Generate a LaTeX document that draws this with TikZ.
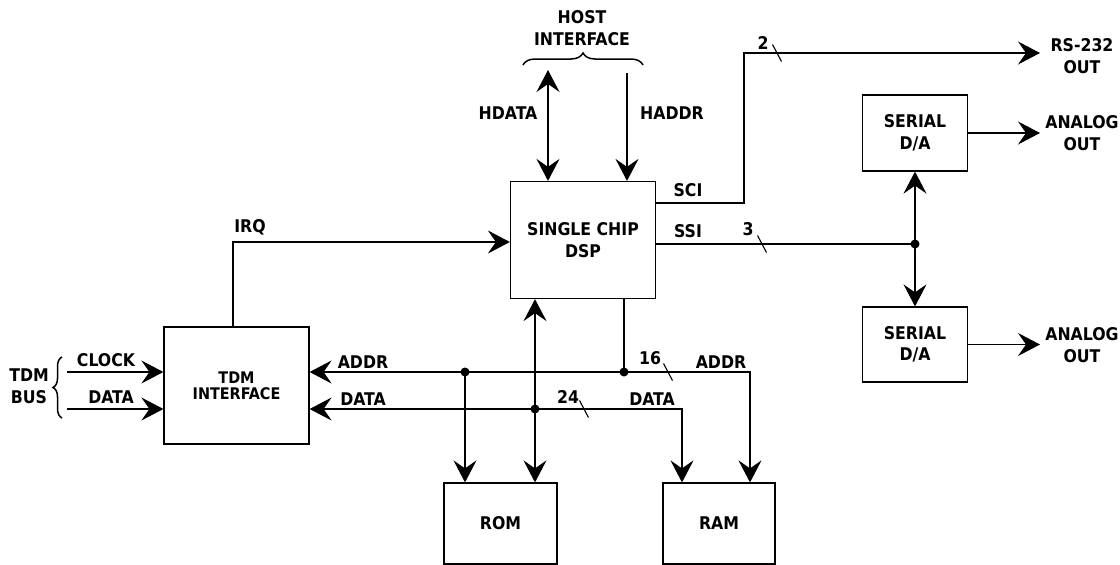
\documentclass[tikz,border=0pt]{standalone}
\usepackage{fontspec}
\setmainfont{DejaVu Sans Condensed}
\usetikzlibrary{arrows.meta,calc,decorations.pathreplacing}

\tikzset{
  lbl/.style={font=\bfseries\fontsize{17.5}{21.5}\selectfont, align=center, inner sep=0pt},
  small/.style={font=\bfseries\fontsize{16}{16}\selectfont, align=center, inner sep=0pt},
  blk/.style={draw, line width=1.2pt, inner sep=0pt, align=center},
  ln/.style={line width=1.1pt},
  sig/.style={line width=1.1pt, -{Stealth[length=22pt,width=23pt,inset=8pt]}},
  dbl/.style={line width=1.1pt, {Stealth[length=22pt,width=23pt,inset=8pt]}-{Stealth[length=22pt,width=23pt,inset=8pt]}},
  jdot/.style={circle, fill, inner sep=0pt, minimum size=9pt},
  brc/.style={decorate, line width=1.5pt, decoration={brace, amplitude=#1}}
}
\newcommand{\busmark}[1]{\draw[ln] ($#1+(-4.5,-8.5)$) -- ($#1+(4.5,8.5)$);}

\begin{document}
\begin{tikzpicture}[x=1pt,y=-1pt]
    \useasboundingbox (0,0) rectangle (1120,565);
    % blocks
    \node[blk, lbl, minimum width=145pt, minimum height=117pt] (dsp) at (583,240) {SINGLE CHIP\\DSP};
    \node[blk, small, minimum width=145pt, minimum height=117pt] (tdm) at (236.5,385.5) {TDM\\INTERFACE};
    \node[blk, lbl, minimum width=113pt, minimum height=81pt] (rom) at (500.5,523.5) {ROM};
    \node[blk, lbl, minimum width=112pt, minimum height=81pt] (ram) at (719,523.5) {RAM};
    \node[blk, lbl, minimum width=105pt, minimum height=76pt] (dacA) at (915,133) {SERIAL\\D/A};
    \node[blk, lbl, minimum width=105pt, minimum height=75pt] (dacB) at (915,344.5) {SERIAL\\D/A};

    % free ends and bends
    \coordinate (hostL) at (548,70);
    \coordinate (hostR) at (627,73);
    \coordinate (sciY) at (0,203);
    \coordinate (sciK) at (744,53);
    \coordinate (rsEnd) at (1040,53);
    \coordinate (ssiJ) at (915,244);
    \coordinate (anaEnd) at (1040,0);
    \coordinate (irqX) at (233,0);
    \coordinate (irqY) at (0,242);
    \coordinate (clkS) at (67,372);
    \coordinate (datS) at (67,409);
    \coordinate (addrJ1) at (465,372);
    \coordinate (addrJ2) at (624,372);
    \coordinate (dataJ) at (535,409);
    \coordinate (ramA) at (750,0);
    \coordinate (ramD) at (682,0);

    % host interface
    \draw[dbl] (hostL) -- (hostL |- dsp.north);
    \draw[sig] (hostR) -- (hostR |- dsp.north);
    \draw[brc=12pt] (523,65) -- (643,65);
    \node[lbl] (host) at (582,28) {HOST\\INTERFACE};
    \node[lbl] (hdata) at (508,113) {HDATA};
    \node[lbl] (haddr) at (672,113) {HADDR};

    % serial ports
    \draw[sig] (dsp.east |- sciY) -| (sciK) -- (rsEnd);
    \draw[ln] (dsp.east |- ssiJ) -- (ssiJ);
    \draw[sig] (ssiJ) -- (dacA.south);
    \draw[sig] (ssiJ) -- (dacB.north);
    \node[jdot] at (ssiJ) {};
    \busmark{(777,53)}
    \busmark{(762,244)}
    \node[lbl] (sci) at (688,190) {SCI};
    \node[lbl] (ssi) at (688,231) {SSI};
    \node[lbl] (n2) at (763,43) {2};
    \node[lbl] (n3) at (748,229) {3};
    \node[lbl] (rs) at (1082,56) {RS-232\\OUT};
    \draw[sig] (dacA.east) -- (dacA.east -| anaEnd);
    \draw[sig] (dacB.east) -- (dacB.east -| anaEnd);
    \node[lbl] (anaA) at (1082,133) {ANALOG\\OUT};
    \node[lbl] (anaB) at (1082,345) {ANALOG\\OUT};

    % irq
    \draw[sig] (tdm.north -| irqX) |- (dsp.west |- irqY);
    \node[lbl] (irq) at (250,227) {IRQ};

    % tdm bus
    \draw[sig] (clkS) -- (clkS -| tdm.west);
    \draw[sig] (datS) -- (datS -| tdm.west);
    \draw[brc=9pt] (62,418) -- (62,357);
    \node[lbl] (clk) at (106,360) {CLOCK};
    \node[lbl] (dat) at (111,397) {DATA};
    \node[lbl] (tdmbus) at (29,386) {TDM\\BUS};

    % address and data buses
    \draw[ln] (dsp.south -| addrJ2) -- (addrJ2);
    \draw[sig] (addrJ2) -- (addrJ2 -| tdm.east);
    \draw[sig] (addrJ2) -| (ram.north -| ramA);
    \draw[sig] (addrJ1) -- (addrJ1 |- rom.north);
    \draw[sig] (dataJ) -- (dataJ -| tdm.east);
    \draw[sig] (dataJ) -| (ram.north -| ramD);
    \draw[dbl] (dsp.south -| dataJ) -- (dataJ |- rom.north);
    \node[jdot] at (addrJ1) {};
    \node[jdot] at (addrJ2) {};
    \node[jdot] at (dataJ) {};
    \busmark{(668,372)}
    \busmark{(584,409)}
    \node[lbl] (addrL) at (363,362) {ADDR};
    \node[lbl] (dataL) at (363,399) {DATA};
    \node[lbl] (n16) at (650,358) {16};
    \node[lbl] (addrR) at (721,362) {ADDR};
    \node[lbl] (n24) at (568,397) {24};
    \node[lbl] (dataR) at (652,399) {DATA};
\end{tikzpicture}
\end{document}
